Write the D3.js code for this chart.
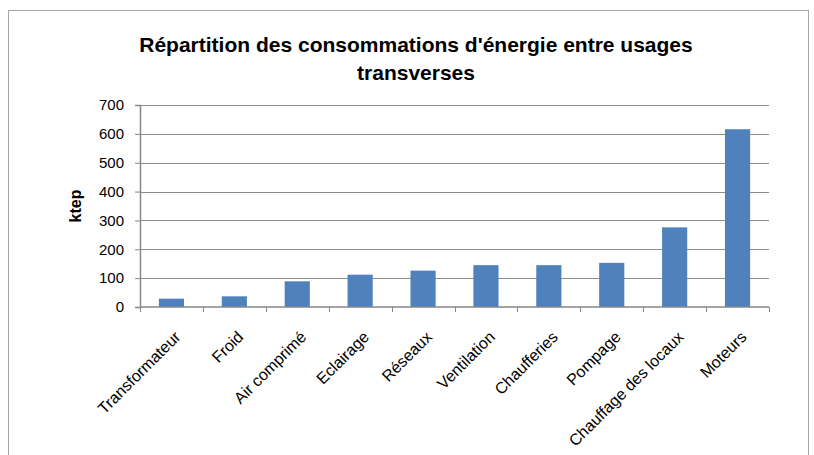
<!DOCTYPE html>
<html>
<head>
<meta charset="utf-8">
<script src="https://cdn.jsdelivr.net/npm/d3@7"></script>
<style>
  body { margin: 0; background: #fff; }
  text { font-family: "Liberation Sans", Arial, sans-serif; fill: #000; }
</style>
</head>
<body>
<script>
// data
var categories = ["Transformateur", "Froid", "Air comprimé", "Eclairage", "Réseaux",
                  "Ventilation", "Chaufferies", "Pompage", "Chauffage des locaux", "Moteurs"];
var values     = [29, 37, 89, 112, 126, 145, 145, 153, 276, 616];
var yTicks     = [0, 100, 200, 300, 400, 500, 600, 700];
var titleLines = ["Répartition des consommations d'énergie entre usages", "transverses"];
var yLabel     = "ktep";

// layout
var width = 814, height = 455;
var plot = {left: 140, right: 769, top: 105, bottom: 307};

var svg = d3.select("body").append("svg")
    .attr("width", width)
    .attr("height", height);

// chart frame
svg.append("rect")
    .attr("x", 8.5).attr("y", 10.5)
    .attr("width", 800).attr("height", 460)
    .attr("fill", "none")
    .attr("stroke", "#a6a6a6")
    .attr("stroke-width", 1);

var x = d3.scaleBand()
    .domain(categories)
    .range([plot.left, plot.right])
    .paddingInner(0.6)
    .paddingOuter(0.3);

var y = d3.scaleLinear()
    .domain([0, 700])
    .range([plot.bottom, plot.top]);

// gridlines
svg.append("g")
    .selectAll("line")
    .data(yTicks.filter(function(d) { return d > 0; }))
    .join("line")
    .attr("x1", plot.left).attr("x2", plot.right)
    .attr("y1", function(d) { return Math.round(y(d)) + 0.5; })
    .attr("y2", function(d) { return Math.round(y(d)) + 0.5; })
    .attr("stroke", "#8c8c8c")
    .attr("stroke-width", 1.2);

// bars
svg.append("g")
    .selectAll("rect")
    .data(values)
    .join("rect")
    .attr("x", function(d, i) { return x(categories[i]); })
    .attr("y", function(d) { return y(d); })
    .attr("width", x.bandwidth())
    .attr("height", function(d) { return y(0) - y(d); })
    .attr("fill", "#4f81bd");

// y axis
var yAxis = svg.append("g")
    .attr("transform", "translate(" + plot.left + ",0)")
    .call(d3.axisLeft(y).tickValues(yTicks).tickSize(5).tickPadding(11));
yAxis.select(".domain").attr("stroke", "#868686").attr("stroke-width", 1.5);
yAxis.selectAll(".tick line").attr("stroke", "#868686");
yAxis.selectAll(".tick text")
    .style("font-size", "15px")
    .attr("fill", "#000");

// x axis: ticks sit on band boundaries
var boundaries = d3.range(categories.length + 1).map(function(i) {
    return plot.left + i * (plot.right - plot.left) / categories.length;
});
svg.append("line")
    .attr("x1", plot.left).attr("x2", plot.right)
    .attr("y1", plot.bottom).attr("y2", plot.bottom)
    .attr("stroke", "#868686").attr("stroke-width", 1.5);
svg.append("g")
    .selectAll("line")
    .data(boundaries)
    .join("line")
    .attr("x1", function(d) { return Math.round(d) + 0.5; })
    .attr("x2", function(d) { return Math.round(d) + 0.5; })
    .attr("y1", plot.bottom).attr("y2", plot.bottom + 5)
    .attr("stroke", "#868686");

svg.append("g")
    .selectAll("text")
    .data(categories)
    .join("text")
    .attr("transform", function(d) {
        var cx = x(d) + x.bandwidth() / 2 + 10;
        return "translate(" + cx + "," + (plot.bottom + 31) + ") rotate(-45)";
    })
    .attr("text-anchor", "end")
    .style("font-size", "16px")
    .text(function(d) { return d; });

// y label
svg.append("text")
    .attr("transform", "translate(81," + ((plot.top + plot.bottom) / 2) + ") rotate(-90)")
    .attr("text-anchor", "middle")
    .style("font-size", "16px")
    .style("font-weight", "bold")
    .text(yLabel);

// title
svg.append("g")
    .selectAll("text")
    .data(titleLines)
    .join("text")
    .attr("x", 416)
    .attr("y", function(d, i) { return 52 + i * 28; })
    .attr("text-anchor", "middle")
    .style("font-size", "21px")
    .style("font-weight", "bold")
    .text(function(d) { return d; });
</script>
</body>
</html>
